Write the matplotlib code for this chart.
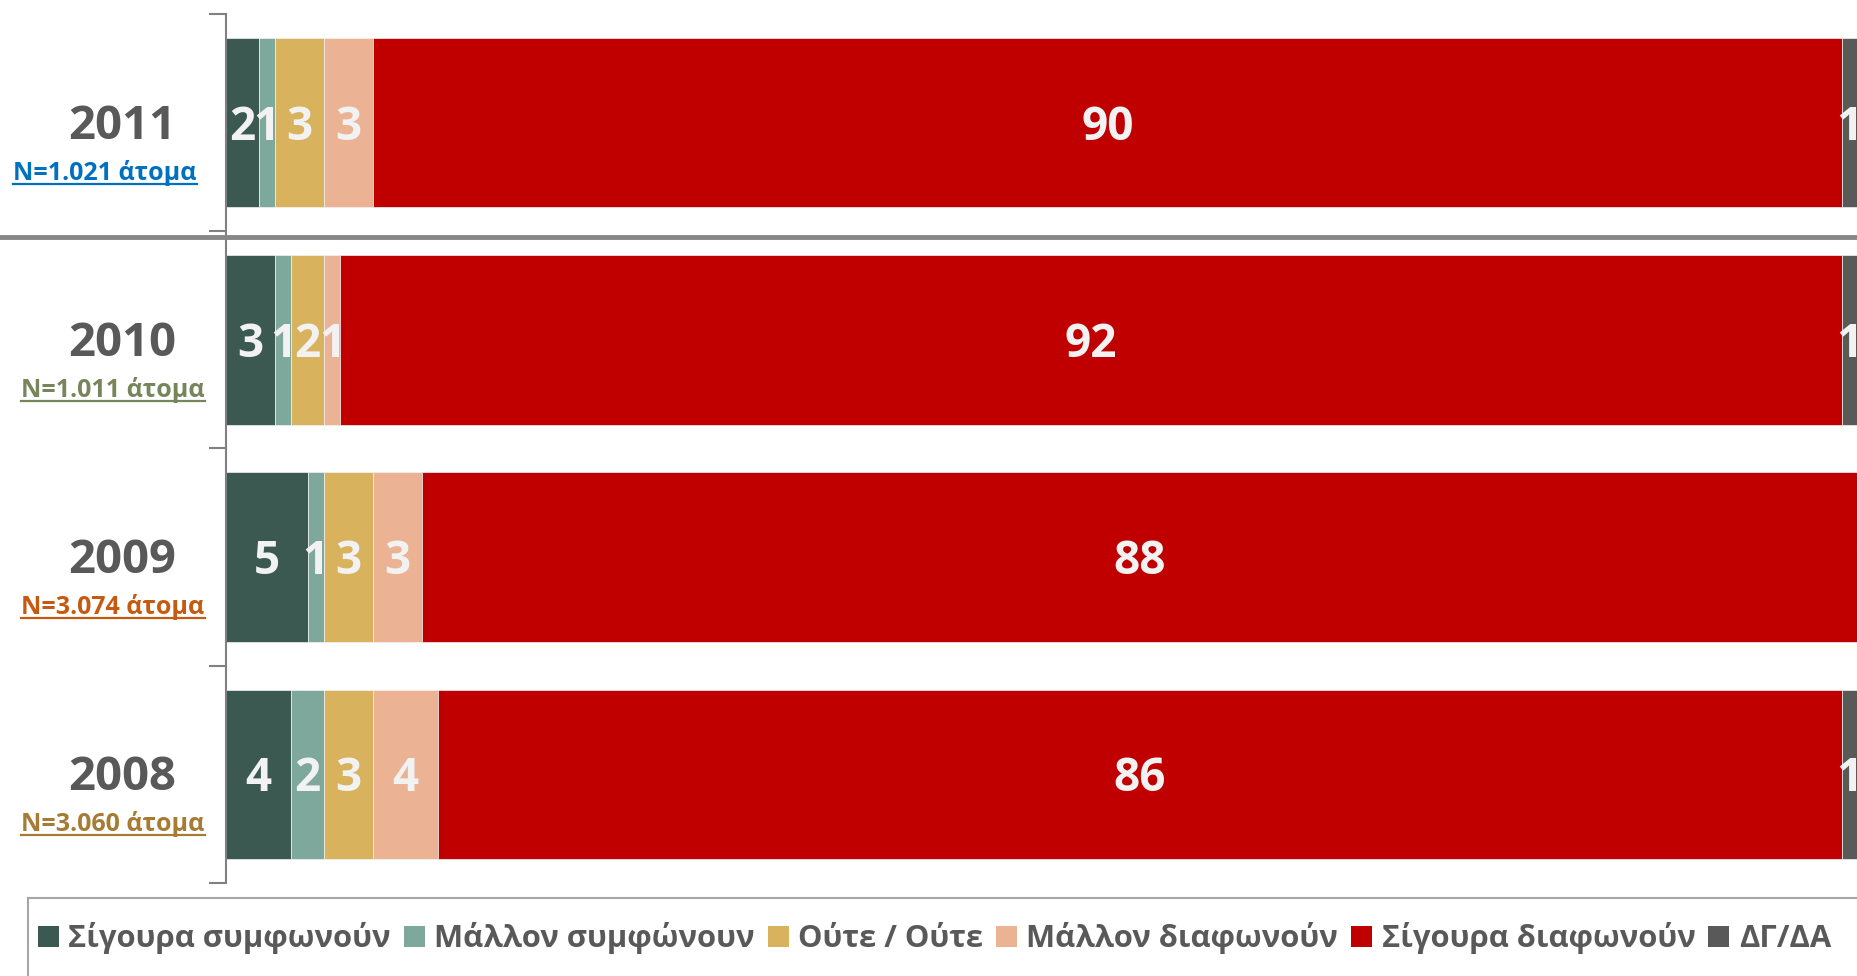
import matplotlib
matplotlib.use('Agg')
import matplotlib.pyplot as plt
import matplotlib.transforms as mtransforms
from matplotlib.patches import Patch
from matplotlib.lines import Line2D
import numpy as np

plt.rcParams['font.family'] = ['Open Sans', 'DejaVu Sans']

W, H = 1858, 976

# rows from bottom to top
YEARS = ['2008', '2009', '2010', '2011']
SAMPLES = ['N=3.060 άτομα', 'N=3.074 άτομα', 'N=1.011 άτομα', 'N=1.021 άτομα']
SAMPLE_COLORS = ['#A67C34', '#C55A11', '#76855A', '#0070C0']

CATEGORIES = ['Σίγουρα συμφωνούν', 'Μάλλον συμφώνουν', 'Ούτε / Ούτε',
              'Μάλλον διαφωνούν', 'Σίγουρα διαφωνούν', 'ΔΓ/ΔΑ']
COLORS = ['#3B5950', '#7DA89B', '#D9B25E', '#ECB294', '#C00000', '#595959']

SIGOURA_SYMF = [4, 5, 3, 2]
MALLON_SYMF = [2, 1, 1, 1]
OUTE_OUTE = [3, 3, 2, 3]
MALLON_DIAF = [4, 3, 1, 3]
SIGOURA_DIAF = [86, 88, 92, 90]
DG_DA = [1, 1, 1, 1]

SERIES = [SIGOURA_SYMF, MALLON_SYMF, OUTE_OUTE, MALLON_DIAF, SIGOURA_DIAF, DG_DA]

fig = plt.figure(figsize=(W / 100, H / 100), dpi=100)
ax = fig.add_axes([226 / W, 93 / H, (W - 226) / W, (883 - 14) / H])

y = np.arange(len(YEARS))
left = np.zeros(len(YEARS))
label_trans = mtransforms.offset_copy(ax.transData, fig=fig, y=-17, units='dots')
for vals, col in zip(SERIES, COLORS):
    bars = ax.barh(y, vals, left=left, height=0.78, color=col,
                   edgecolor='#F2F2F2', linewidth=0.5)
    for bar, v in zip(bars, vals):
        ax.text(bar.get_x() + bar.get_width() / 2, bar.get_y() + bar.get_height() / 2,
                str(v), ha='center', va='baseline', color='#F2F2F2',
                fontsize=33, fontweight='bold', transform=label_trans)
    left += np.array(vals)

ax.set_xlim(0, 100)
ax.set_ylim(-0.5, 3.5)
ax.xaxis.set_visible(False)
for s in ['top', 'right', 'bottom']:
    ax.spines[s].set_visible(False)
ax.spines['left'].set_color('#808080')
ax.spines['left'].set_linewidth(1.5)
ax.set_yticks(np.arange(-0.5, 4, 1))
ax.set_yticklabels([])
ax.tick_params(axis='y', length=12, width=1.5, color='#808080')

# year + sample labels on the left
blend = mtransforms.blended_transform_factory(fig.transFigure, ax.transData)
year_trans = mtransforms.offset_copy(blend, fig=fig, y=-16, units='dots')
n_trans = mtransforms.offset_copy(blend, fig=fig, y=-57, units='dots')
n_texts = []
for i, (yr, n, c) in enumerate(zip(YEARS, SAMPLES, SAMPLE_COLORS)):
    ax.text(122 / W, i, yr, ha='center', va='baseline', fontsize=34,
            fontweight='bold', color='#595959', transform=year_trans)
    xc = 105 / W if i == 3 else 113 / W
    t = ax.text(xc, i, n, ha='center', va='baseline', fontsize=18,
                fontweight='bold', color=c, transform=n_trans)
    n_texts.append(t)

# separator between 2011 and earlier years
fig.add_artist(Line2D([0, 1], [1 - 237 / H] * 2, transform=fig.transFigure,
                      color='#878787', lw=3.5))

# legend
handles = [Patch(facecolor=c, edgecolor='none') for c in COLORS]
fig.legend(handles, CATEGORIES, loc='upper left', bbox_to_anchor=(38 / W, 1 - 922 / H),
           ncol=6, frameon=False, handlelength=0.68, handleheight=0.68,
           handletextpad=0.3, columnspacing=0.42, borderpad=0, borderaxespad=0,
           labelcolor='#595959', prop={'weight': 'bold', 'size': 22.3})
fig.add_artist(Line2D([28 / W, 1], [1 - 898 / H] * 2, transform=fig.transFigure,
                      color='#A6A6A6', lw=1.5))
fig.add_artist(Line2D([28 / W, 28 / W], [0, 1 - 898 / H], transform=fig.transFigure,
                      color='#A6A6A6', lw=1.5))

# underline the sample sizes
fig.canvas.draw()
renderer = fig.canvas.get_renderer()
for t in n_texts:
    bb = t.get_window_extent(renderer)
    yb = t.get_transform().transform(t.get_position())[1] - 4
    fig.add_artist(Line2D([bb.x0, bb.x1], [yb, yb], transform=mtransforms.IdentityTransform(),
                          color=t.get_color(), lw=1.6))

fig.savefig('out.png', dpi=100)
